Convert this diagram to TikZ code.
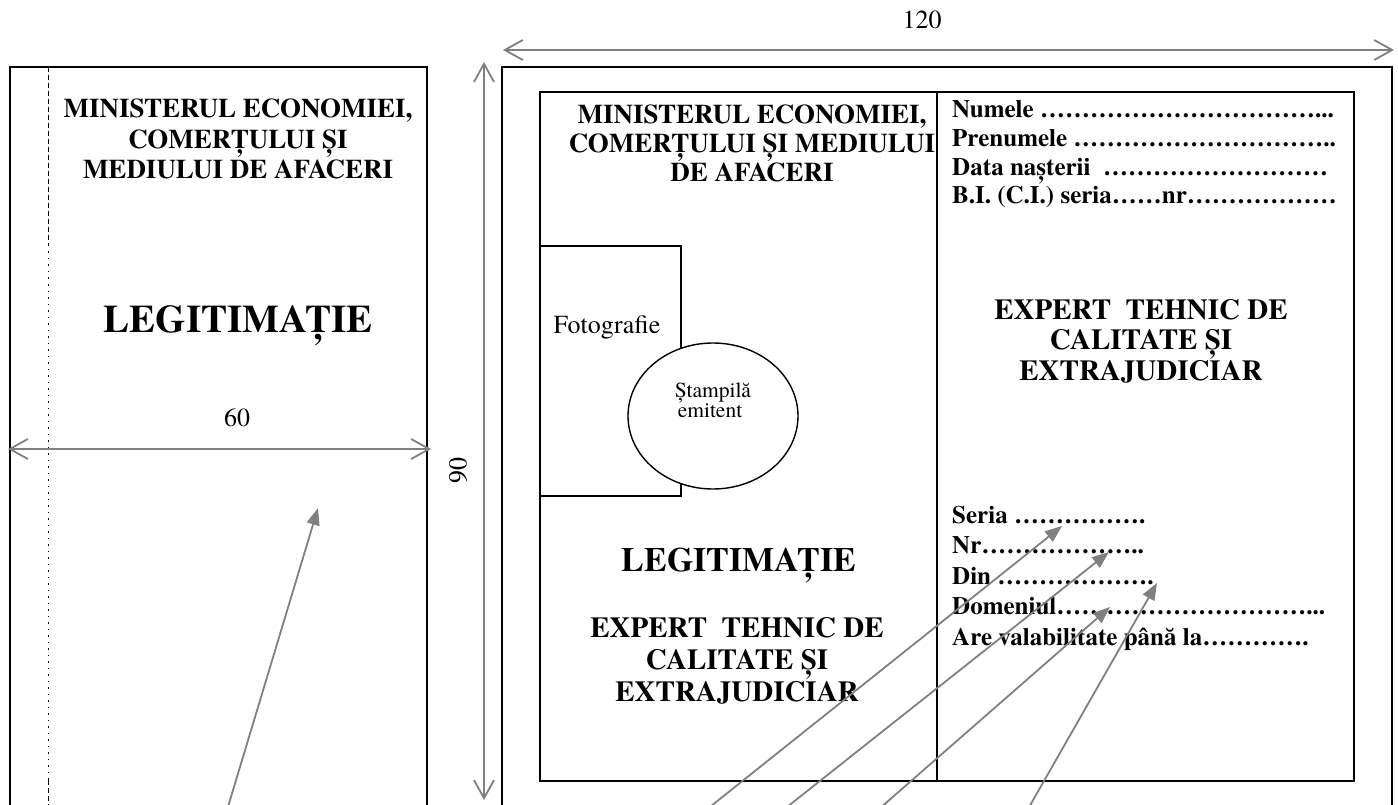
\documentclass[tikz,border=0pt]{standalone}
\usepackage{fontspec}
\setmainfont{texgyretermes}[Extension=.otf, UprightFont=*-regular, BoldFont=*-bold]
\usetikzlibrary{arrows.meta}
\definecolor{dimgrey}{RGB}{128,128,128}
\newcommand{\dd}[1]{\foreach \k in {1,...,#1}{\char"2026}}
\begin{document}
\frenchspacing
\begin{tikzpicture}[x=1pt,y=-1pt,
  card/.style={draw=black,line width=1.6pt},
  thinbox/.style={draw=black,line width=1.4pt},
  dimline/.style={draw=dimgrey,line width=1.8pt,{Straight Barb[length=18pt,width=20pt]}-{Straight Barb[length=18pt,width=20pt]}},
  ptr/.style={draw=dimgrey,line width=1.8pt,-{Triangle[length=17pt,width=13pt]}},
  txt/.style={anchor=base,inner sep=0pt},
  hd/.style={txt,font=\bfseries\fontsize{27}{30}\selectfont},
  hdb/.style={txt,font=\bfseries\fontsize{29}{32}\selectfont},
  legl/.style={txt,font=\bfseries\fontsize{39}{44}\selectfont},
  legm/.style={txt,font=\bfseries\fontsize{34}{38}\selectfont},
  fld/.style={anchor=base west,inner sep=0pt,font=\bfseries\fontsize{25}{29}\selectfont},
  num/.style={txt,font=\fontsize{26}{30}\selectfont},
  lbl/.style={txt,font=\fontsize{26}{30}\selectfont},
  stamptxt/.style={txt,font=\fontsize{21.5}{24}\selectfont}]
\useasboundingbox (0,0) rectangle (1398,805);
\clip (0,0) rectangle (1398,805);
% left card
\draw[card] (10,67) rectangle (427,840);
\draw[black,line width=1pt,dash pattern=on 5pt off 3pt] (48,67) -- (48,245);
\draw[black,line width=1pt,dash pattern=on 1.5pt off 5pt] (48,245) -- (48,780);
\draw[black,line width=1pt,dash pattern=on 5pt off 3pt] (48,780) -- (48,840);
\node[hd] (l1) at (238,118) {MINISTERUL ECONOMIEI,};
\node[hd] (l2) at (238,148.5) {COMERȚULUI ȘI};
\node[hd] (l3) at (238,179) {MEDIULUI DE AFACERI};
\node[legl] (lleg) at (238,332) {LEGITIMAȚIE};
% right card
\draw[card] (502,67) rectangle (1392,840);
\draw[thinbox] (540,92) rectangle (1354,781);
\draw[thinbox] (937,92) -- (937,781);
\draw[thinbox] (540,246) rectangle (681,496);
\node[lbl] (foto) at (607,333) {Fotografie};
\draw[thinbox,fill=white] (713,416) ellipse [x radius=85pt, y radius=73pt];
\node[stamptxt] (st1) at (713,397) {Ștampilă};
\node[stamptxt] (st2) at (710,417) {emitent};
\node[hd] (m1) at (752,124) {MINISTERUL ECONOMIEI,};
\node[hd] (m2) at (752,153) {COMERȚULUI ȘI MEDIULUI};
\node[hd] (m3) at (752,182) {DE AFACERI};
\node[legm] (mleg) at (739,571) {LEGITIMAȚIE};
\node[hdb] (me1) at (737,637) {EXPERT\ \ TEHNIC DE};
\node[hdb] (me2) at (737,669) {CALITATE ȘI};
\node[hdb] (me3) at (737,701) {EXTRAJUDICIAR};
\node[fld] (f1) at (952,118) {Numele \dd{11}...};
\node[fld] (f2) at (952,147) {Prenumele \dd{10}..};
\node[fld] (f3) at (952,175.5) {Data nașterii\ \ \dd{9}};
\node[fld] (f4) at (952,204) {B.I. (C.I.) seria\dd{2}nr\dd{6}};
\node[hdb] (r1) at (1141,319.5) {EXPERT\ \ TEHNIC DE};
\node[hdb] (r2) at (1141,349.5) {CALITATE ȘI};
\node[hdb] (r3) at (1141,380.5) {EXTRAJUDICIAR};
\node[fld] (g1) at (952,523) {Seria \dd{5}.};
\node[fld] (g2) at (952,553.5) {Nr\dd{6}..};
\node[fld] (g3) at (952,584) {Din \dd{6}.};
\node[fld] (g4) at (952,614.5) {Domeniul\dd{10}...};
\node[fld] (g5) at (952,645) {Are valabilitate până la\dd{4}.};
% dimensions
\coordinate (a60l) at (8,449);
\coordinate (a60r) at (431,449);
\draw[dimline] (a60l) -- (a60r);
\node[num] (n60) at (237,426) {60};
\coordinate (a90t) at (484,62);
\coordinate (a90b) at (484,800);
\draw[dimline] (a90t) -- (a90b);
\node[num,rotate=90,anchor=center] (n90) at (458,470) {90};
\coordinate (a120l) at (503,50);
\coordinate (a120r) at (1394,50);
\draw[dimline] (a120l) -- (a120r);
\node[num] (n120) at (922,29) {120};
% pointers
\coordinate (p0s) at (221,830);
\coordinate (p0e) at (318,508);
\coordinate (p1s) at (681,830);
\coordinate (p1e) at (1062,526);
\coordinate (p2s) at (758,830);
\coordinate (p2e) at (1109,552);
\coordinate (p3s) at (855,830);
\coordinate (p3e) at (1110,607);
\coordinate (p4s) at (1016,830);
\coordinate (p4e) at (1157,583);
\draw[ptr] (p0s) -- (p0e);
\draw[ptr] (p1s) -- (p1e);
\draw[ptr] (p2s) -- (p2e);
\draw[ptr] (p3s) -- (p3e);
\draw[ptr] (p4s) -- (p4e);
\end{tikzpicture}
\end{document}
